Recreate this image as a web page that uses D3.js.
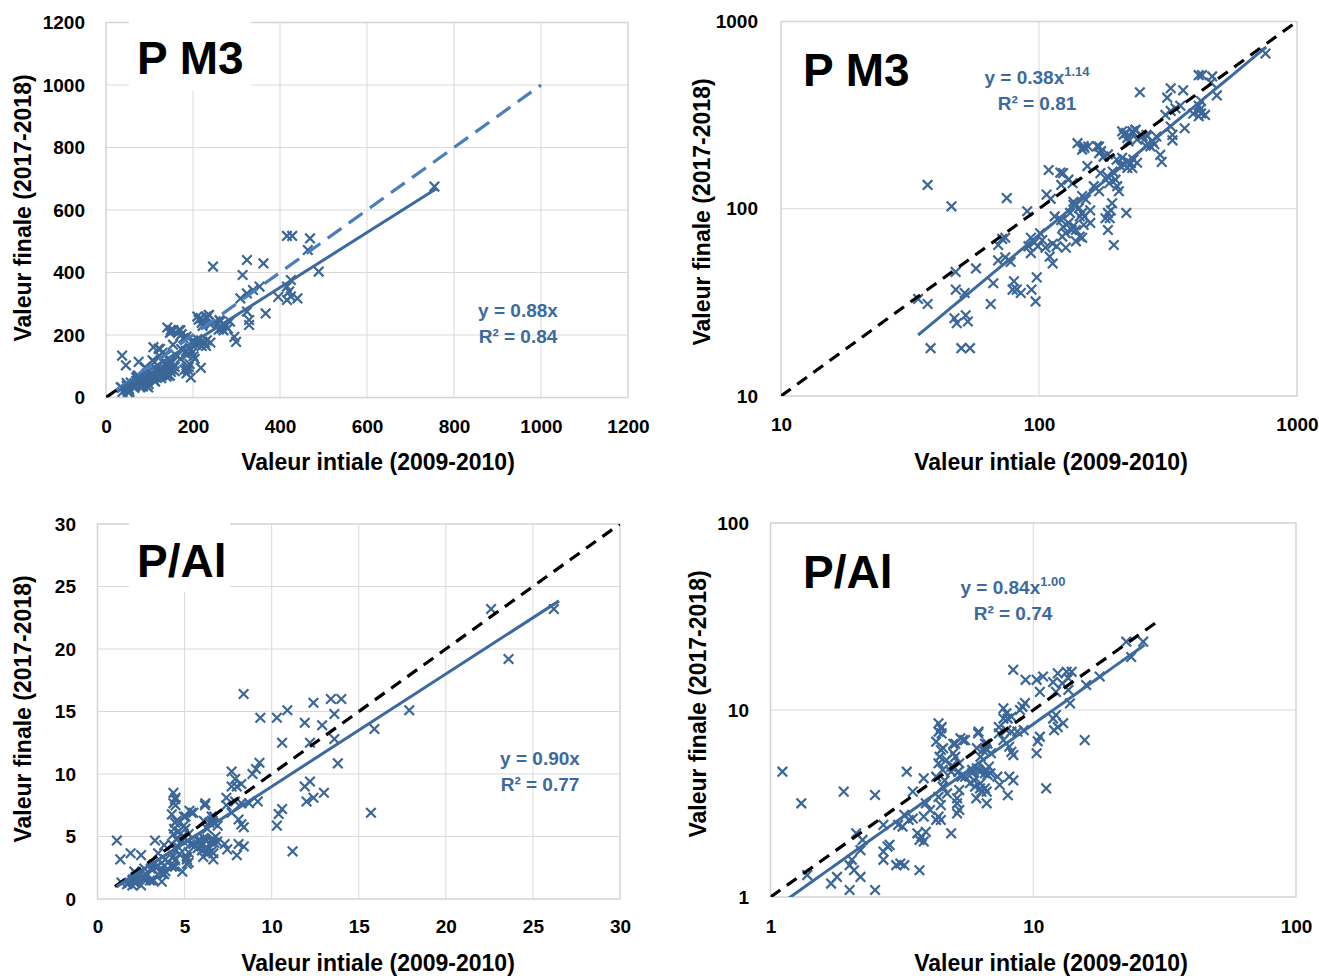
<!DOCTYPE html>
<html><head><meta charset="utf-8">
<script src="https://cdn.jsdelivr.net/npm/d3@7"></script>
<style>body{margin:0;background:#fff}svg{display:block}</style>
</head><body><svg id="c" width="1319" height="976"></svg>
<script>
// ---------- DATA ----------
const PM3_INIT = [37,45.8,75,90,34,37,38,47.5,47.6,51.5,47,48,52,53,50,54,57,65,66.5,69.5,72,74,69.4,77.6,74,80,79,82,85,93.5,97,98,91,93,96,101,103,99,93,106,110,113,109,124,130,122,107,111,136,115,122,130,136,113,117,127,134,139,127,124,123,144,149,158,144,147,147,152,158,147,150,139,185,188,192,185,195,218,181,190,132,143,136,121,135,141,149,147,168,171,150,155,154,163,171,171,174,178,185,200,207,214,221,232,240,173,184,193,198,187,201,204,210,227,230,220,210,218,222,232,237,213,230,220,240,252,263,275,270,259,246,236,261,285,280,266,295,299,314,324,362,338,353,309,324,324,329,329,367,396,416,421,425,440,425,416,416,428,469,464,489,755];
const PM3_FINAL = [134,103,114,97,33,31,18,46,37,35.5,26,24.5,27,25,18,18,48,31,40,64,69,70,53,52,55,41,37,37,35.5,37,32,43,63,70,66,74,68,63,58,62,55.5,51,161,155,143,134,119,113,109,91,87,84,81,65,63,74,77,67,62,80,71,91,82,84,71,70,117,112,98,95,91,77,95,89,107,77,64,95,89,98,95,101,105,156,137,224,216,207,216,198,211,215,169,132,124,215,203,190,195,183,169,172,179,183,176,155,149,158,143,137,132,124,187,175,165,165,259,254,229,254,264,249,259,239,234,244,244,229,215,217,419,264,248,243,221,221,194,178,392,440,429,344,355,317,333,275,248,232,269,322,312,339,323,317,376,355,517,517,509,472,403,675];

const PAL_INIT = [1.11,1.31,1.90,2.50,3.30,3.48,3.83,4.36,4.45,4.36,4.27,4.45,4.36,4.52,4.27,4.6,4.87,5.05,5.4,5.05,5.23,4.87,5.33,5.85,5.96,5.74,6.19,6.55,6.42,6.3,6.65,6.19,6.55,6.78,6.87,6.3,6.55,6.65,6.07,6.65,5.23,5.13,5.13,5.23,5.13,4.87,4.36,4.27,4.45,4.45,4.7,4.52,4.36,3.9,4.05,3.48,3.83,3.62,3.9,3.69,3.83,3.76,3.23,3.36,3.18,3.06,3.01,3.12,3.23,3.69,2.69,2.84,2.79,2.69,2.69,2.50,2.12,2.24,2.2,2.04,2.0,2.08,2.2,2.0,1.70,1.79,1.38,8.39,9.35,10.3,10.9,11.9,12.4,13.4,14.0,13.6,12.9,10.6,12.2,13.6,15.9,17.9,22.6,26.2,23.6,13.8,15.7,12.2,11.9,12.4,13,12,10.6,10.4,10.3,11.2,7.7,7.9,8.0,7.7,8.26,8.9,9.1,9.3,7.4,7.9,8.26,8.7,9.2,7.4,7.7,8.26,8.4,8.1,6.17,6.7,6.6,6.1,6.9,5.28,5.5,4.96,4.96,4.48,4.48,4.54,4.4,4.67,4.96,5.18,5.5,5.85,6.1,6.27,6.6,6.7,7.3,8.1,8.4,8.0,7.45,6.27,6.35,6.0];
const PAL_FINAL = [4.68,3.17,3.66,3.51,4.68,3.66,4.31,8.49,7.98,7.66,6.77,6.11,5.19,4.78,4.4,4.2,4.98,5.62,6.9,6.6,5.19,4.68,4.4,4.78,4.2,4.06,7.66,6.6,6.11,5.62,6.11,4.78,4.59,4.98,4.59,4.06,3.81,3.66,3.37,3.17,3.73,3.37,3.17,2.92,2.8,2.19,2.69,2.58,2.58,3.1,3.58,3.89,3.43,3.17,2.92,2.63,2.69,2.19,2.23,2.02,1.98,2.1,2.75,2.58,2.38,2.43,1.48,1.51,1.48,1.39,2.43,1.9,1.86,1.75,1.58,1.09,2.19,2.02,1.78,1.58,1.48,1.39,1.28,1.09,1.18,1.28,1.31,16.4,14.5,14.5,15.1,14.1,15.7,16.0,16.0,14.8,13.9,12.5,12.5,12.8,13.6,15.1,23.2,23.2,19.2,10.85,6.9,9.4,9.0,8.1,8.5,7.8,7.2,6.8,5.87,3.81,10.2,9.6,9.0,9.0,9.2,10,10.4,10.9,8.1,7.8,7.66,7.66,7.8,7.5,6.9,5.97,5.74,6.36,7.5,6.6,6.25,6.25,5.87,7.06,6.9,6.6,5.87,8.1,7.5,6.25,5.62,5.4,4.98,4.68,4.4,4.59,4.88,4.68,4.78,4.5,4.4,4.4,4.2,3.5,3.97,3.81,3.66,3.89];

const TICKS_PM3_LIN = [0,200,400,600,800,1000,1200];
const TICKS_PM3_LOG = [10,100,1000];
const TICKS_PAL_LIN = [0,5,10,15,20,25,30];
const TICKS_PAL_LOG = [1,10,100];

const TITLES = ["P M3","P M3","P/Al","P/Al"];
const EQ_COEF = ["0.88","0.38","0.90","0.84"];
const EQ_EXP  = [null,"1.14",null,"1.00"];
const R2      = ["0.84","0.81","0.77","0.74"];
const FIT_A   = [0.88,0.38,0.90,0.84];
const FIT_B   = [1,1.14,1,1.00];
const X_TITLE = "Valeur intiale (2009-2010)";
const Y_TITLE = "Valeur finale  (2017-2018)";

// ---------- LAYOUT ----------
const FONT = "'Liberation Sans', Arial, sans-serif";
const BLUE = "#3b6698", LINE = "#3d6a9e", LBLUE = "#4a7ebb";
const svg = d3.select("#c");
svg.append("rect").attr("width",1319).attr("height",976).attr("fill","#fff");

const panels = [
 {log:false, xs:d3.scaleLinear([0,1200],[106,628]), ys:d3.scaleLinear([0,1200],[397.5,22.5]), ticks:TICKS_PM3_LIN, xd:PM3_INIT, yd:PM3_FINAL,
  tpos:[137,74], box:[129,19,122,72], eq:[518,310], xt:[378,462], yt:[23,208], tx:[21,29.5], fr:[34,760], one:[0,1000]},
 {log:true, xs:d3.scaleLog([10,1000],[781,1297]), ys:d3.scaleLog([10,1000],[396,21.5]), ticks:TICKS_PM3_LOG, xd:PM3_INIT, yd:PM3_FINAL,
  tpos:[803,86], box:null, eq:[1037,77], xt:[1051,462], yt:[702,212], tx:[23,29], fr:[34,760], one:[10,1000]},
 {log:false, xs:d3.scaleLinear([0,30],[97.5,620]), ys:d3.scaleLinear([0,30],[899,524]), ticks:TICKS_PAL_LIN, xd:PAL_INIT, yd:PAL_FINAL,
  tpos:[137,577], box:[129,520,101,72], eq:[540,758], xt:[378,963], yt:[23,709], tx:[21.5,28], fr:[1.1,26.5], one:[1,30]},
 {log:true, xs:d3.scaleLog([1,100],[770.5,1296]), ys:d3.scaleLog([1,100],[897,523]), ticks:TICKS_PAL_LOG, xd:PAL_INIT, yd:PAL_FINAL,
  tpos:[803,588], box:null, eq:[1013,587], xt:[1051,963], yt:[698,704], tx:[21.5,30], fr:[1.1,26.5], one:[1,30]}
];

panels.forEach((p,i)=>{
  const g = svg.append("g");
  const [x0,x1] = p.xs.range(), [y0,y1] = p.ys.range();
  const clipId = "clip"+i;
  svg.append("clipPath").attr("id",clipId).append("rect")
     .attr("x",x0).attr("y",y1).attr("width",x1-x0).attr("height",y0-y1);

  // gridlines
  const gridV = p.ticks.slice(1,-1);
  g.selectAll(".gv").data(gridV).join("line")
    .attr("x1",d=>p.xs(d)).attr("x2",d=>p.xs(d)).attr("y1",y1).attr("y2",y0)
    .attr("stroke","#d9d9d9").attr("stroke-width",1);
  g.selectAll(".gh").data(gridV).join("line")
    .attr("y1",d=>p.ys(d)).attr("y2",d=>p.ys(d)).attr("x1",x0).attr("x2",x1)
    .attr("stroke","#d9d9d9").attr("stroke-width",1);
  g.append("rect").attr("x",x0).attr("y",y1).attr("width",x1-x0).attr("height",y0-y1)
    .attr("fill","none").attr("stroke","#d4d4d4").attr("stroke-width",1.5);

  if(p.box){
    g.append("rect").attr("x",p.box[0]).attr("y",p.box[1]).attr("width",p.box[2]).attr("height",p.box[3]).attr("fill","#fff");
  }

  // axes
  const fmt = d3.format("d");
  const ya = d3.axisLeft(p.ys).tickValues(p.ticks).tickSize(0).tickPadding(p.tx[0]).tickFormat(fmt);
  const xa = d3.axisBottom(p.xs).tickValues(p.ticks).tickSize(0).tickPadding(p.tx[1]-7).tickFormat(fmt);
  const gy = g.append("g").attr("transform",`translate(${x0},0)`).call(ya);
  const gx = g.append("g").attr("transform",`translate(0,${y0})`).call(xa);
  [gx,gy].forEach(a=>{
    a.select(".domain").remove();
    a.selectAll("text").attr("font-family",FONT).attr("font-weight","bold").attr("font-size",19).attr("fill","#000");
  });

  // points
  const pts = p.xd.map((v,k)=>[v,p.yd[k]]);
  const s = 4.8;
  const pg = g.append("g").attr("clip-path",`url(#${clipId})`);
  pg.selectAll("path.m").data(pts).join("path")
    .attr("d",d=>{const cx=p.xs(d[0]), cy=p.ys(d[1]);
      return `M${cx-s},${cy-s}L${cx+s},${cy+s}M${cx-s},${cy+s}L${cx+s},${cy-s}`;})
    .attr("stroke",BLUE).attr("stroke-width",2.2).attr("fill","none");

  // 1:1 line
  if(i===0){
    pg.append("line").attr("x1",p.xs(0)).attr("y1",p.ys(0)).attr("x2",p.xs(24)).attr("y2",p.ys(24))
      .attr("stroke","#000").attr("stroke-width",3.2);
    pg.append("line").attr("x1",p.xs(24)).attr("y1",p.ys(24)).attr("x2",p.xs(1000)).attr("y2",p.ys(1000))
      .attr("stroke",LBLUE).attr("stroke-width",3.2).attr("stroke-dasharray","17,9");
  } else {
    pg.append("line").attr("x1",p.xs(p.one[0])).attr("y1",p.ys(p.one[0])).attr("x2",p.xs(p.one[1])).attr("y2",p.ys(p.one[1]))
      .attr("stroke","#000").attr("stroke-width",3.2).attr("stroke-dasharray","12,8");
  }

  // fit line
  const a = FIT_A[i], b = FIT_B[i];
  const xsFit = p.log ? d3.range(0,41).map(k=>p.fr[0]*Math.pow(p.fr[1]/p.fr[0],k/40)) : [p.fr[0],p.fr[1]];
  const line = d3.line().x(d=>p.xs(d)).y(d=>p.ys(a*Math.pow(d,b)));
  pg.append("path").attr("d",line(xsFit)).attr("fill","none").attr("stroke",LINE).attr("stroke-width",3);

  // title
  g.append("text").attr("x",p.tpos[0]).attr("y",p.tpos[1]).text(TITLES[i])
    .attr("font-family",FONT).attr("font-weight","bold").attr("font-size",46).attr("fill","#000");

  // equation
  const e1 = g.append("text").attr("x",p.eq[0]).attr("y",p.eq[1]+7).attr("text-anchor","middle")
    .attr("font-family",FONT).attr("font-weight","bold").attr("font-size",19).attr("fill",LINE);
  e1.append("tspan").text(`y = ${EQ_COEF[i]}x`);
  if(EQ_EXP[i]) e1.append("tspan").attr("font-size",13).attr("dy",-8).text(EQ_EXP[i]);
  g.append("text").attr("x",p.eq[0]).attr("y",p.eq[1]+26+7).attr("text-anchor","middle")
    .attr("font-family",FONT).attr("font-weight","bold").attr("font-size",19).attr("fill",LINE)
    .text(`R² = ${R2[i]}`);

  // axis titles
  g.append("text").attr("x",p.xt[0]).attr("y",p.xt[1]).attr("text-anchor","middle").attr("dominant-baseline","central")
    .attr("font-family",FONT).attr("font-weight","bold").attr("font-size",23).attr("fill","#000").text(X_TITLE);
  g.append("text").attr("transform",`translate(${p.yt[0]},${p.yt[1]}) rotate(-90)`).attr("text-anchor","middle").attr("dominant-baseline","central")
    .attr("font-family",FONT).attr("font-weight","bold").attr("font-size",23).attr("fill","#000").text(Y_TITLE);
});
</script></body></html>
